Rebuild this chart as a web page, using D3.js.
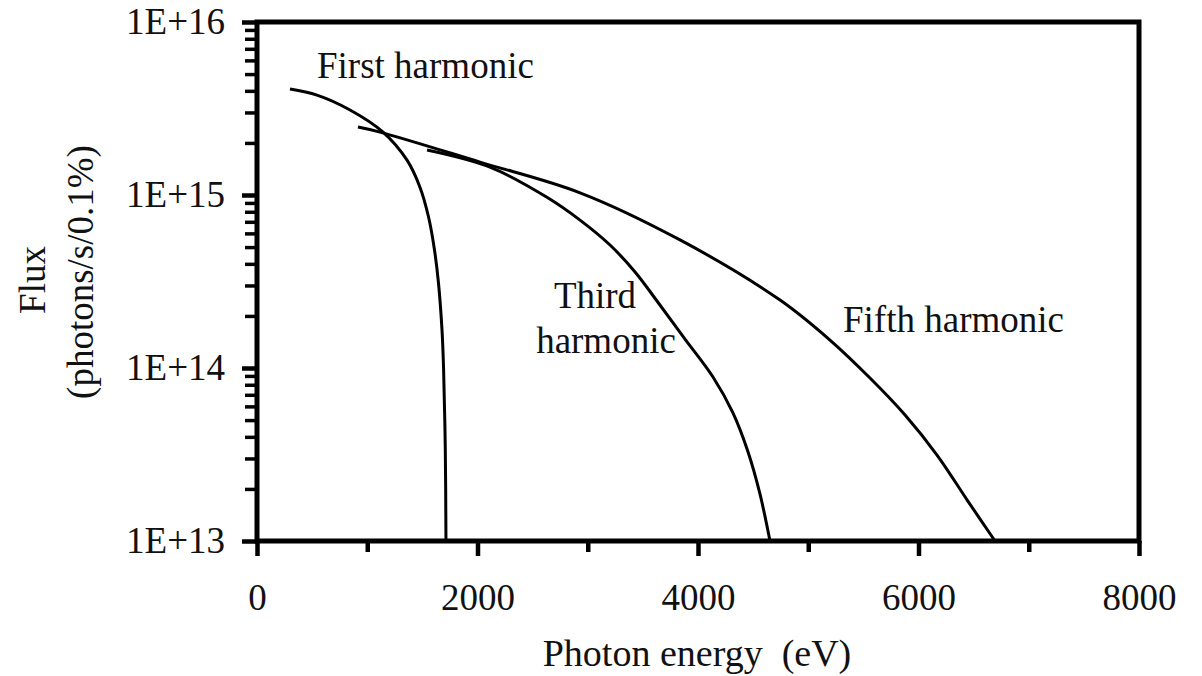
<!DOCTYPE html>
<html>
<head>
<meta charset="utf-8">
<script src="https://cdn.jsdelivr.net/npm/d3@7"></script>
<style>
  body { margin: 0; background: #fff; }
  svg text { font-family: "Liberation Serif", "Tinos", "DejaVu Serif", "Noto Serif", serif; fill: #111; }
</style>
</head>
<body>
<div id="chart"></div>
<script>
// photon energy (eV) / flux (photons/s/0.1%)
const firstEnergy = [299, 544, 844, 1143, 1361, 1478, 1556, 1610, 1646, 1678, 1692, 1708, 1714];
const firstFlux = [4.1e15, 3.78e15, 3.1e15, 2.31e15, 1.59e15, 1.11e15, 7.46e14, 4.81e14, 3.1e14, 1.66e14, 1.01e14, 3.36e13, 1.0e13];

const thirdEnergy = [1542, 2113, 2630, 2930, 3202, 3429, 3628, 3882, 4136, 4317, 4454, 4562, 4653];
const thirdFlux = [1.82e15, 1.45e15, 9.7e14, 7.16e14, 5.14e14, 3.59e14, 2.44e14, 1.47e14, 8.87e13, 5.5e13, 3.27e13, 1.87e13, 1.0e13];

const fifthEnergy = [916, 1116, 2023, 2930, 3837, 4744, 5197, 5560, 5878, 6168, 6440, 6694];
const fifthFlux = [2.47e15, 2.31e15, 1.55e15, 1.03e15, 5.5e14, 2.47e14, 1.45e14, 8.75e13, 5.35e13, 3.14e13, 1.73e13, 1.0e13];

const xTicks = [0, 2000, 4000, 6000, 8000];
const xMinor = [1000, 3000, 5000, 7000];
const yTicks = [1e13, 1e14, 1e15, 1e16];
const yTickLabels = ["1E+13", "1E+14", "1E+15", "1E+16"];

const width = 1202, height = 676;
const margin = { top: 22, right: 63, bottom: 135, left: 257 };
const serif = '"Liberation Serif", "Tinos", "DejaVu Serif", serif';

const svg = d3.select("#chart").append("svg")
    .attr("width", width)
    .attr("height", height)
    .attr("font-family", serif);

const x = d3.scaleLinear().domain([0, 8000]).range([margin.left, width - margin.right]);
const y = d3.scaleLog().domain([1e13, 1e16]).range([height - margin.bottom, margin.top]);

// minor log ticks 2..9 in each decade
const yMinor = [];
[1e13, 1e14, 1e15].forEach(d => { for (let k = 2; k <= 9; k++) yMinor.push(k * d); });

// y axis minor ticks
svg.append("g")
    .attr("transform", `translate(${x(0)},0)`)
    .call(d3.axisLeft(y).tickValues(yMinor).tickSize(12).tickFormat(""))
    .call(g => g.select(".domain").remove())
    .call(g => g.selectAll("line").attr("stroke", "#000").attr("stroke-width", 3.5));

// y axis major ticks + labels
svg.append("g")
    .attr("transform", `translate(${x(0)},0)`)
    .call(d3.axisLeft(y).tickValues(yTicks).tickSize(15).tickPadding(17)
        .tickFormat((d, i) => yTickLabels[i]))
    .call(g => g.attr("font-family", serif))
    .call(g => g.select(".domain").remove())
    .call(g => g.selectAll("line").attr("stroke", "#000").attr("stroke-width", 4.5))
    .call(g => g.selectAll("text").style("font-size", "37px").attr("dy", "0.32em"));

// x axis minor ticks
svg.append("g")
    .attr("transform", `translate(0,${y(1e13)})`)
    .call(d3.axisBottom(x).tickValues(xMinor).tickSize(11).tickFormat(""))
    .call(g => g.select(".domain").remove())
    .call(g => g.selectAll("line").attr("stroke", "#000").attr("stroke-width", 4.5));

// x axis major ticks + labels
svg.append("g")
    .attr("transform", `translate(0,${y(1e13)})`)
    .call(d3.axisBottom(x).tickValues(xTicks).tickSize(15).tickPadding(28).tickFormat(d3.format("d")))
    .call(g => g.attr("font-family", serif))
    .call(g => g.select(".domain").remove())
    .call(g => g.selectAll("line").attr("stroke", "#000").attr("stroke-width", 4.5))
    .call(g => g.selectAll("text").style("font-size", "37px").attr("dy", "0.71em"));

// frame
svg.append("rect")
    .attr("x", x(0))
    .attr("y", y(1e16))
    .attr("width", x(8000) - x(0))
    .attr("height", y(1e13) - y(1e16))
    .attr("fill", "none")
    .attr("stroke", "#000")
    .attr("stroke-width", 5);

// curves
const line = d3.line()
    .x(d => x(d[0]))
    .y(d => y(d[1]))
    .curve(d3.curveCatmullRom.alpha(0.5));

const series = [
    d3.zip(firstEnergy, firstFlux),
    d3.zip(thirdEnergy, thirdFlux),
    d3.zip(fifthEnergy, fifthFlux)
];

svg.selectAll(".curve")
    .data(series)
    .join("path")
    .attr("class", "curve")
    .attr("d", line)
    .attr("fill", "none")
    .attr("stroke", "#000")
    .attr("stroke-width", 3);

// curve labels
const labels = [
    { t: "First harmonic", x: 317, y: 78, a: "start" },
    { t: "Third", x: 595, y: 308, a: "middle" },
    { t: "harmonic", x: 606, y: 353, a: "middle" },
    { t: "Fifth harmonic", x: 843, y: 332, a: "start" }
];
svg.selectAll(".lbl")
    .data(labels)
    .join("text")
    .attr("class", "lbl")
    .attr("x", d => d.x)
    .attr("y", d => d.y)
    .attr("text-anchor", d => d.a)
    .style("font-size", "37px")
    .text(d => d.t);

// axis titles
svg.append("text")
    .attr("x", 697)
    .attr("y", 666)
    .attr("text-anchor", "middle")
    .style("font-size", "38px")
    .style("white-space", "pre")
    .text("Photon energy  (eV)");

svg.append("text")
    .attr("transform", "translate(45,280) rotate(-90)")
    .attr("text-anchor", "middle")
    .style("font-size", "37px")
    .text("Flux");

svg.append("text")
    .attr("transform", "translate(93,272) rotate(-90)")
    .attr("text-anchor", "middle")
    .style("font-size", "37px")
    .text("(photons/s/0.1%)");
</script>
</body>
</html>
